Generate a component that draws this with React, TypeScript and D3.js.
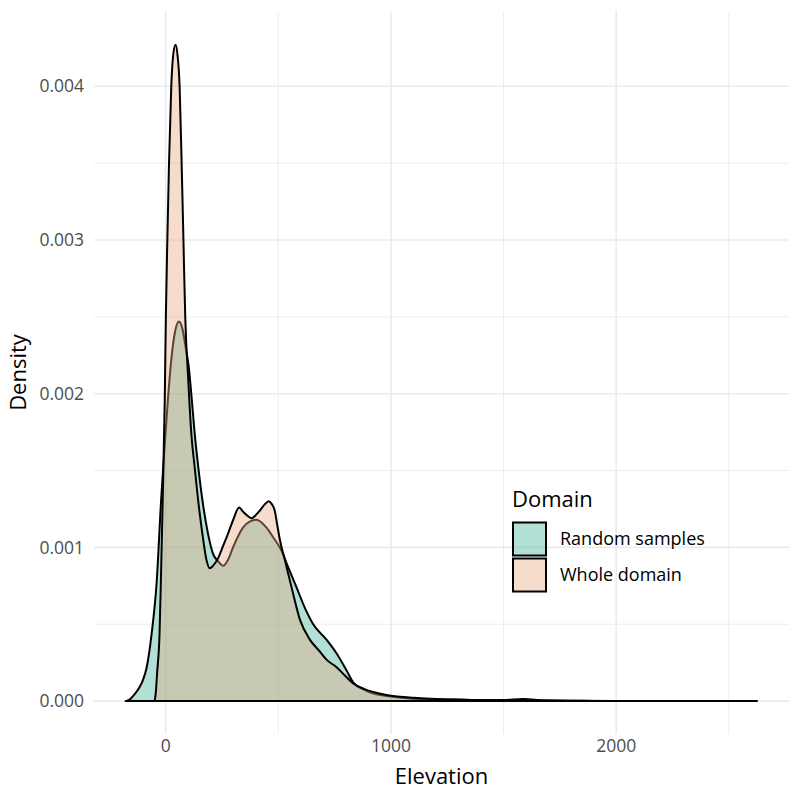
import React from "react";
import { scaleLinear, area, curveMonotoneX, range } from "d3";

// Elevation grid and kernel density values
const randomElev = [
  -178, -160, -140, -116, -100, -84, -62, -40, -20, -5, 10, 25, 40, 59, 75, 89, 103, 115, 129, 145, 163,
  188, 210, 233, 255, 277, 299, 344, 375, 403, 447, 480, 514, 536, 581, 620, 655, 714, 759, 803, 833,
  880, 920, 1000, 1100, 1200, 1292, 1400, 1500, 1587, 1680, 1800, 2000, 2200, 2400, 2625,
];
const randomDensity = [
  0, 0.00001, 0.00004, 0.00009, 0.00014, 0.00022, 0.00044, 0.00077, 0.00131, 0.00165, 0.00196, 0.00222,
  0.00239, 0.00247, 0.00242, 0.0023, 0.00217, 0.00198, 0.00174, 0.00152, 0.00131, 0.00109, 0.00096,
  0.00091, 0.00088, 0.00092, 0.001, 0.00113, 0.00117, 0.00118, 0.00113, 0.00106, 0.00098, 0.0009,
  0.00074, 0.0006, 0.0005, 0.0004, 0.00031, 0.0002, 0.00012, 0.000075, 0.00005, 0.00003, 0.000016,
  0.000011, 0.00001, 0.000006, 0.000007, 0.000014, 0.000005, 0.000002, 0.0000015, 0.000001, 0.0000005, 0,
];

const wholeElev = [
  -49, -44, -38, -27, -20, -13, -4, 1, 7.5, 15, 25, 34, 44, 53, 62, 71, 79, 87, 100, 114, 129, 144, 163,
  181, 196, 210, 233, 255, 277, 300, 326, 345, 360, 381, 400, 418, 440, 458, 472, 484, 495, 507, 529, 559,
  596, 640, 680, 714, 759, 800, 833, 880, 921, 980, 1040, 1100, 1200, 1300, 1400, 1500, 1600, 1700, 1900,
  2100, 2300, 2600,
];
const wholeDensity = [
  0, 0.00005, 0.00018, 0.00044, 0.00085, 0.00131, 0.00196, 0.0025, 0.003, 0.0035, 0.004, 0.00421,
  0.00427, 0.0042, 0.004, 0.0035, 0.003, 0.0025, 0.0021, 0.00174, 0.00152, 0.00131, 0.00109, 0.00092,
  0.000865, 0.00088, 0.00093, 0.00101, 0.00109, 0.00118, 0.00126, 0.00123, 0.00121, 0.00119, 0.00121,
  0.00124, 0.00128, 0.0013, 0.00128, 0.00124, 0.00115, 0.00105, 0.00092, 0.00074, 0.00053, 0.0004,
  0.00033, 0.00027, 0.00022, 0.00016, 0.000115, 0.00008, 0.00006, 0.00004, 0.000028, 0.000022,
  0.000014, 0.000009, 0.000007, 0.000005, 0.000006, 0.000003, 0.0000015, 0.000001, 0.0000005, 0,
];

const groups = ["Random samples", "Whole domain"];
const fills = ["#3eaf98", "#e8a77d"];

const xTicks = [0, 1000, 2000];
const yTicks = [0, 0.001, 0.002, 0.003, 0.004];

const W = 800;
const H = 800;
const panel = { left: 94, right: 789, top: 11, bottom: 734 };
const font = "'Open Sans', 'Noto Sans', sans-serif";

export default function App() {
  const x = scaleLinear().domain([-318, 2767]).range([panel.left, panel.right]);
  const y = scaleLinear().domain([-0.000214, 0.00449]).range([panel.bottom, panel.top]);

  const densityArea = area<[number, number]>()
    .x((d) => x(d[0]))
    .y0(y(0))
    .y1((d) => y(d[1]))
    .curve(curveMonotoneX);

  const series = [
    randomElev.map((e, i) => [e, randomDensity[i]] as [number, number]),
    wholeElev.map((e, i) => [e, wholeDensity[i]] as [number, number]),
  ];

  const xMinor = range(-500, 3000, 1000).filter((v) => x(v) >= panel.left && x(v) <= panel.right);
  const yMinor = range(-0.0005, 0.005, 0.001).filter((v) => y(v) >= panel.top && y(v) <= panel.bottom);

  return (
    <svg width={W} height={H} style={{ position: "absolute", left: 0, top: 0, background: "#fff" }}>
      {/* grid */}
      <g stroke="#ebebeb" fill="none">
        {yMinor.map((v, i) => (
          <line key={"ym" + i} x1={panel.left} x2={panel.right} y1={y(v)} y2={y(v)} strokeWidth={0.9} />
        ))}
        {xMinor.map((v, i) => (
          <line key={"xm" + i} x1={x(v)} x2={x(v)} y1={panel.top} y2={panel.bottom} strokeWidth={0.9} />
        ))}
        {yTicks.map((v, i) => (
          <line key={"y" + i} x1={panel.left} x2={panel.right} y1={y(v)} y2={y(v)} strokeWidth={1.6} />
        ))}
        {xTicks.map((v, i) => (
          <line key={"x" + i} x1={x(v)} x2={x(v)} y1={panel.top} y2={panel.bottom} strokeWidth={1.6} />
        ))}
      </g>

      {/* densities */}
      {series.map((s, i) => (
        <path
          key={i}
          d={densityArea(s) ?? ""}
          fill={fills[i]}
          fillOpacity={0.4}
          stroke="#000"
          strokeWidth={2}
          strokeLinejoin="round"
        />
      ))}

      {/* y axis */}
      {yTicks.map((v, i) => (
        <text
          key={i}
          x={84}
          y={y(v)}
          dy="0.35em"
          textAnchor="end"
          fontFamily={font}
          fontSize={17.5}
          fill="#4d4d4d"
        >
          {v.toFixed(3)}
        </text>
      ))}
      <text
        transform={`translate(26,${(panel.top + panel.bottom) / 2}) rotate(-90)`}
        textAnchor="middle"
        fontFamily={font}
        fontSize={22}
        fill="#000"
      >
        Density
      </text>

      {/* x axis */}
      {xTicks.map((v, i) => (
        <text key={i} x={x(v)} y={752} textAnchor="middle" fontFamily={font} fontSize={17.5} fill="#4d4d4d">
          {v}
        </text>
      ))}
      <text x={(panel.left + panel.right) / 2} y={784} textAnchor="middle" fontFamily={font} fontSize={22} fill="#000">
        Elevation
      </text>

      {/* legend */}
      <text x={512} y={507} fontFamily={font} fontSize={22} fill="#000">
        Domain
      </text>
      {groups.map((g, i) => (
        <g key={g} transform={`translate(513,${522.5 + i * 36})`}>
          <rect width={33} height={33} fill={fills[i]} fillOpacity={0.4} stroke="#000" strokeWidth={2} />
          <text x={47} y={16.5} dy="0.35em" fontFamily={font} fontSize={18} fill="#000">
            {g}
          </text>
        </g>
      ))}
    </svg>
  );
}
